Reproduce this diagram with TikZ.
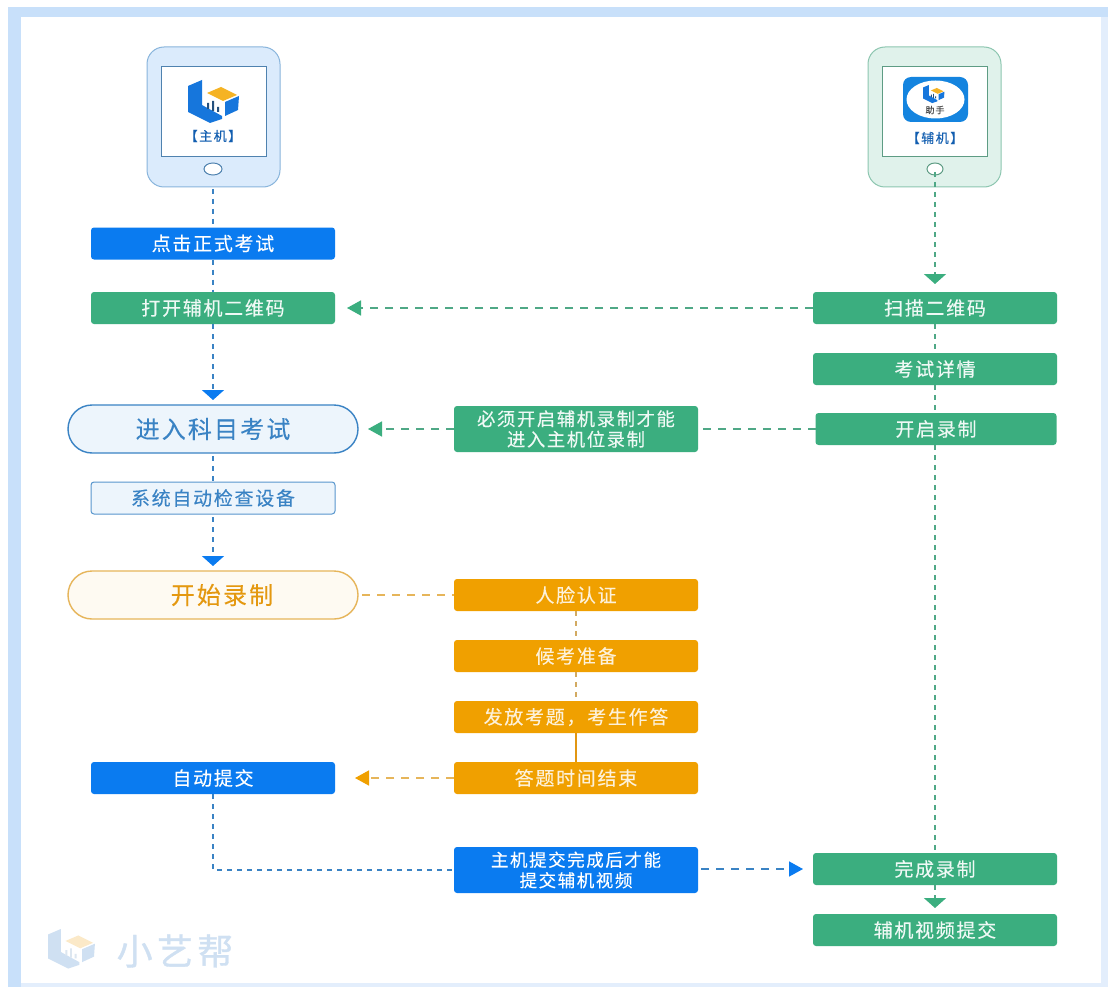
\documentclass[tikz,border=0pt]{standalone}
\usepackage{fontspec}
\setmainfont{Noto Sans CJK SC}
\newfontfamily\cjk[LetterSpace=9,FakeBold=0.2]{Noto Sans CJK SC}
\newfontfamily\cjkwide[LetterSpace=12,FakeBold=0.4]{Noto Sans CJK SC}
\newfontfamily\cjkmark[LetterSpace=12,FakeBold=1]{Noto Sans CJK SC}
\usetikzlibrary{arrows.meta}
\definecolor{bandA}{HTML}{C8E0FA}
\definecolor{bandB}{HTML}{E3EEFC}
\definecolor{cblue}{HTML}{0A7BF0}
\definecolor{cgreen}{HTML}{3BAE7F}
\definecolor{corange}{HTML}{F0A000}
\definecolor{lineblue}{HTML}{3A83C4}
\definecolor{linegreen}{HTML}{4FA886}
\definecolor{lineorange}{HTML}{E6B55A}
\definecolor{logoblue}{HTML}{1676DC}
\definecolor{logoorange}{HTML}{F5B324}
\definecolor{logodark}{HTML}{24507E}
\definecolor{wblue}{HTML}{CFE0F2}
\definecolor{worange}{HTML}{FBE9C8}
\definecolor{wdark}{HTML}{DCE6F0}
\definecolor{paleblue}{HTML}{EDF5FC}
\tikzset{
  x=1pt,y=-1pt,
  every node/.style={outer sep=0pt,inner sep=0pt,font=\cjk\fontsize{19}{21}\selectfont,align=center},
  flow/.style={rounded corners=3pt,minimum width=244pt,minimum height=32pt,text=white},
  bluebox/.style={flow,fill=cblue},
  greenbox/.style={flow,fill=cgreen,text=white!92!cgreen},
  orangebox/.style={flow,fill=corange,text=white!85!corange},
  checkbox/.style={flow,fill=paleblue,draw=lineblue!85,line width=1pt,text=lineblue},
  pill/.style={rounded corners=24pt,minimum width=290pt,minimum height=48pt,line width=1.4pt,font=\cjk\fontsize{24}{26}\selectfont},
  phone/.style={rounded corners=17pt,minimum width=133pt,minimum height=140pt,line width=1pt},
  screen/.style={fill=white,minimum width=105pt,minimum height=90pt,line width=1pt},
  dashv/.style={line width=1.8pt,dash pattern=on 5pt off 5pt},
  dashh/.style={line width=1.5pt,dash pattern=on 8pt off 7pt},
  tipdown/.style={arrows={-{Triangle[width=22pt,length=10pt,color=#1]}}},
  tipside/.style={arrows={-{Triangle[width=15pt,length=14pt,color=#1]}}},
  pics/logo/.style n args={3}{code={
    \fill[#1] (0,6) -- (14,0) -- (14,25) -- (34,36) -- (34,39) -- (22,43) -- (0,32) -- cycle;
    \fill[#2] (19,13) -- (33,7) -- (49,15) -- (35,21) -- cycle;
    \fill[#1] (37,22) -- (51,16) -- (50,30) -- (37,36) -- cycle;
    \fill[#3] (19,23) rectangle (21,29) (24,21) rectangle (26,31) (29,27) rectangle (31,32);
  }},
}
\begin{document}
\begin{tikzpicture}
\useasboundingbox (0,0) rectangle (1108,987);
% page frame
\fill[white] (0,0) rectangle (1108,987);
\fill[bandB] (1101,7) rectangle (1108,987);
\fill[bandB] (8,983) rectangle (1108,987);
\fill[bandA] (8,7) rectangle (21,987);
\fill[bandA] (8,7) rectangle (1108,17);

% watermark
\pic at (48,929) [scale=.92] {logo={wblue}{worange}{wdark}};
\node[font=\cjkmark\fontsize{36}{40}\selectfont,text=wblue] (mark) at (175,951) {小艺帮};

% phones
\node[phone,fill=bandA!65!white,draw=lineblue!60] (ph1) at (213.5,117) {};
\node[screen,draw=lineblue!70!gray] (sc1) at (213.5,112) {};
\node[phone,fill=cgreen!16!white,draw=linegreen!65] (ph2) at (934.5,117) {};
\node[screen,draw=linegreen!70!gray] (sc2) at (934.5,112) {};
\draw[fill=white,draw=lineblue!70!gray,line width=1pt] (213,169) ellipse (9 and 6);
\coordinate (hm1) at (213,189);
\draw[fill=white,draw=linegreen!70!gray,line width=1pt] (935,169) ellipse (8 and 6);
\coordinate (hm2) at (935,172);

% phone screens
\pic at (188,80) {logo={logoblue}{logoorange}{logodark}};
\node[font=\cjkwide\fontsize{13}{16}\selectfont,text=logoblue!80!black] (t1) at (213,136) {【主机】};
\fill[logoblue!90!cyan,rounded corners=8pt] (903,77) rectangle (968,122);
\fill[white] (935.5,99.5) ellipse (29 and 19);
\pic at (923,85) [scale=.42] {logo={logoblue}{logoorange}{logodark}};
\node[font=\cjkwide\fontsize{9}{11}\selectfont,text=black!70] (t2) at (935,110) {助手};
\node[font=\cjkwide\fontsize{13}{16}\selectfont,text=logoblue!80!black] (t3) at (935,138) {【辅机】};

% left column
\node[bluebox] (click) at (213,243.5) {点击正式考试};
\node[greenbox] (open) at (213,308) {打开辅机二维码};
\node[pill,fill=paleblue,draw=lineblue,text=lineblue] (enter) at (213,429) {进入科目考试};
\node[checkbox] (check) at (213,498) {系统自动检查设备};
\node[pill,fill=corange!5!white,draw=lineorange,text=corange!75!brown] (start) at (213,595) {\hspace*{18pt}开始录制};
\node[bluebox] (auto) at (213,778) {自动提交};

% middle column
\node[greenbox,minimum height=46pt,font=\cjk\fontsize{18.3}{20.5}\selectfont] (must) at (576,429) {必须开启辅机录制才能\\进入主机位录制};
\node[orangebox] (face) at (576,595) {人脸认证};
\node[orangebox] (wait) at (576,656) {候考准备};
\node[orangebox] (paper) at (576,717) {发放考题，考生作答};
\node[orangebox] (end) at (576,778) {答题时间结束};
\node[bluebox,minimum height=46pt,font=\cjk\fontsize{17.5}{20.5}\selectfont] (host) at (576,870) {主机提交完成后才能\\提交辅机视频};

% right column
\node[greenbox] (scan) at (935,308) {扫描二维码};
\node[greenbox] (detail) at (935,369) {考试详情};
\node[greenbox,minimum width=241pt] (rec) at (936,429) {开启录制};
\node[greenbox] (done) at (935,869) {完成录制};
\node[greenbox] (sub) at (935,930) {辅机视频提交};

% connectors: left
\draw[dashv,lineblue] (hm1) -- (click.north);
\draw[dashv,lineblue] (click.south) -- (open.north);
\draw[dashv,lineblue,shorten >=5pt,tipdown=cblue] (open.south) -- (enter.north);
\draw[dashv,lineblue] ([yshift=-3pt]enter.south) -- (check.north);
\draw[dashv,lineblue,shorten >=5pt,tipdown=cblue] ([yshift=-3pt]check.south) -- (start.north);
\draw[dashv,lineblue] (auto.south) |- (host.west);

% connectors: right
\draw[dashv,linegreen,shorten >=8pt,tipdown=cgreen] (hm2) -- (scan.north);
\draw[dashv,linegreen] (scan.south) -- (detail.north);
\draw[dashv,linegreen] (detail.south) -- (detail.south |- rec.north);
\draw[dashv,linegreen] (done.north |- rec.south) -- (done.north);
\draw[dashv,linegreen,shorten >=6pt,tipdown=cgreen] (done.south) -- (sub.north);

% connectors: horizontal
\draw[dashh,linegreen,shorten >=12pt,tipside=cgreen] (scan.west) -- (open.east);
\draw[dashh,linegreen,shorten >=10pt,tipside=cgreen] (must.west) -- (enter.east);
\draw[dashh,linegreen] (rec.west) -- ([xshift=3pt]must.east);
\draw[dashh,lineorange] ([xshift=4pt]start.east) -- (face.west);
\draw[dashv,lineorange!80!gray] (face.south) -- (wait.north);
\draw[dashv,lineorange!80!gray] (wait.south) -- (paper.north);
\draw[line width=1.6pt,corange!70!brown] (paper.south) -- (end.north);
\draw[dashh,lineorange,shorten >=20pt,tipside=corange] (end.west) -- (auto.east);
\draw[dashh,lineblue,shorten >=10pt,tipside=cblue] ([xshift=3pt]host.east |- done.west) -- (done.west);
\end{tikzpicture}
\end{document}
